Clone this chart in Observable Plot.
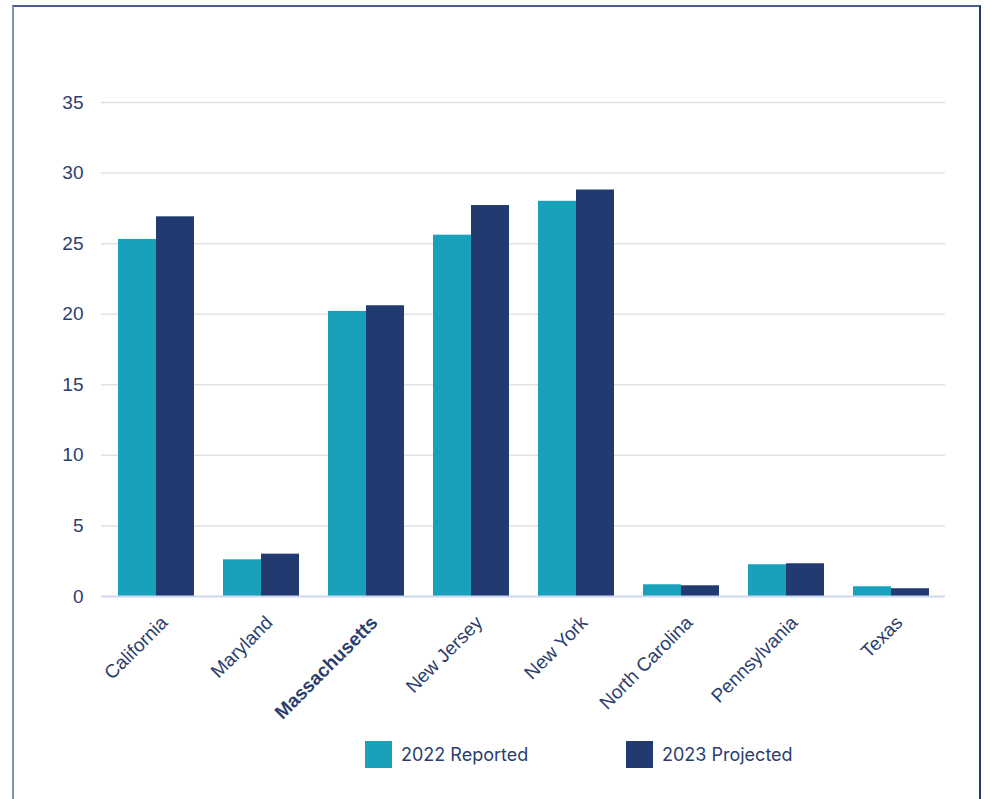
<!DOCTYPE html>
<html>
<head>
<meta charset="utf-8">
<script src="https://cdn.jsdelivr.net/npm/d3@7"></script>
<script src="https://cdn.jsdelivr.net/npm/@observablehq/plot@0.6"></script>
<style>
  html, body { margin: 0; padding: 0; background: #fff; }
  body { width: 990px; height: 799px; position: relative; overflow: hidden; font-family: "Liberation Sans", Arial, sans-serif; }
  #frame { position: absolute; left: 12px; top: 5px; width: 969px; height: 820px;
           border-left: 2px solid #8392b4; border-top: 2px solid #4a5d8c; border-right: 2px solid #23396b; box-sizing: border-box; }
  #chart { position: absolute; left: 0; top: 0; }
  .legend-item { position: absolute; top: 741px; display: flex; align-items: center; font-family: Inter, "Liberation Sans", sans-serif; font-size: 18px; color: #2b3e6e; }
  .sw { width: 27px; height: 27px; margin-right: 9px; }
</style>
</head>
<body>
<div id="frame"></div>
<div id="chart"></div>
<div id="legend"></div>
<script>
const states = ["California", "Maryland", "Massachusetts", "New Jersey", "New York", "North Carolina", "Pennsylvania", "Texas"];
const seriesNames = ["2022 Reported", "2023 Projected"];
const reported2022 = [25.3, 2.6, 20.2, 25.6, 28.0, 0.83, 2.25, 0.69];
const projected2023 = [26.9, 3.0, 20.6, 27.7, 28.8, 0.76, 2.32, 0.55];
const yTicks = [0, 5, 10, 15, 20, 25, 30, 35];
const colors = ["#19a0bb", "#213b70"];

const rows2022 = states.map((s, i) => ({state: s, series: seriesNames[0], value: reported2022[i]}));
const rows2023 = states.map((s, i) => ({state: s, series: seriesNames[1], value: projected2023[i]}));

const textColor = "#2b3e6e";

function build(half) {
  return Plot.plot({
    width: 990,
    height: 736,
    marginTop: 102,
    marginBottom: 140,
    marginLeft: 101,
    marginRight: 45,
    style: { fontFamily: "'Liberation Sans', Arial, sans-serif", fontSize: "19px", color: textColor, background: "transparent" },
    x: { domain: states, paddingInner: 0.28, paddingOuter: 0.15, label: null, axis: null },
    y: { domain: [0, 35], ticks: yTicks, label: null, axis: null },
    color: { domain: seriesNames, range: colors },
    marks: [
      Plot.gridY(yTicks, { stroke: "#e2e2e2", strokeOpacity: 1, strokeWidth: 1.5 }),
      Plot.axisY(yTicks, { tickSize: 0, tickPadding: 0, dx: -18, fontSize: 19, fill: textColor, label: null }),
      Plot.barY(rows2022, { x: "state", y: "value", fill: "series", insetRight: half }),
      Plot.barY(rows2023, { x: "state", y: "value", fill: "series", insetLeft: half }),
      Plot.ruleY([0], { stroke: "#cfdaf1", strokeWidth: 2 }),
      Plot.axisX({ anchor: "bottom", tickSize: 0, tickPadding: 8, dx: 8, dy: 15, tickRotate: -45, fontSize: 19, fill: textColor, label: null })
    ]
  });
}

const probe = build(0);
const half = probe.scale("x").bandwidth / 2;
const chart = build(half);

d3.select(chart).selectAll("text").filter(function() { return this.textContent === "Massachusetts"; })
  .attr("font-weight", "bold");

document.getElementById("chart").appendChild(chart);

const legend = document.getElementById("legend");
const legendX = [365, 626];
seriesNames.forEach((name, i) => {
  const item = document.createElement("div");
  item.className = "legend-item";
  item.style.left = legendX[i] + "px";
  const sw = document.createElement("div");
  sw.className = "sw";
  sw.style.background = colors[i];
  const label = document.createElement("span");
  label.textContent = name;
  item.appendChild(sw);
  item.appendChild(label);
  legend.appendChild(item);
});
</script>
</body>
</html>
